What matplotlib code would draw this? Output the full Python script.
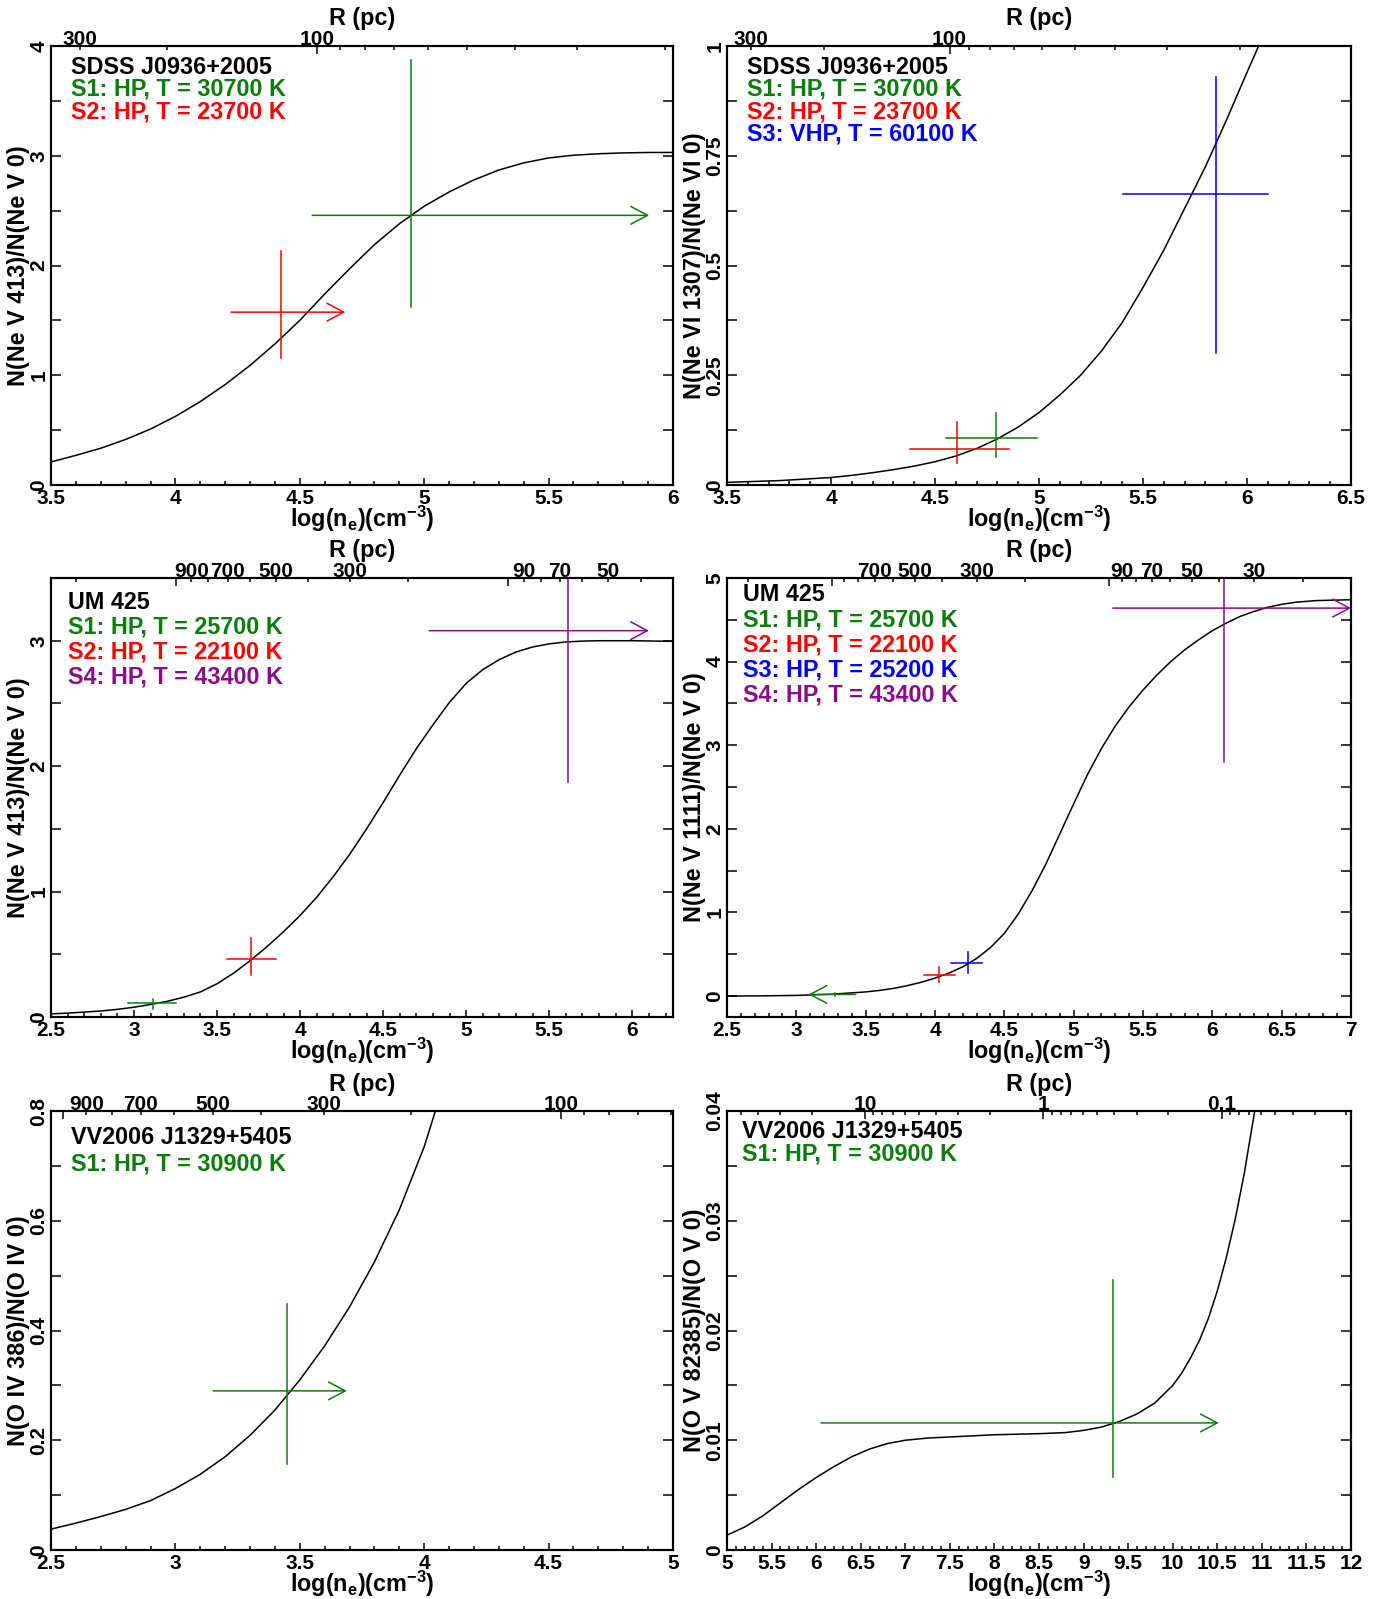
import numpy as np
import matplotlib.pyplot as plt
from matplotlib.ticker import MultipleLocator

plt.rcParams['font.family'] = ['Liberation Sans', 'DejaVu Sans']
plt.rcParams['font.weight'] = 'bold'
plt.rcParams['axes.labelweight'] = 'bold'
plt.rcParams['mathtext.fontset'] = 'custom'
plt.rcParams['mathtext.rm'] = 'Liberation Sans:bold'
plt.rcParams['mathtext.bf'] = 'Liberation Sans:bold'
plt.rcParams['mathtext.default'] = 'bf'

GREEN = '#0a7d0a'
RED = '#ff0000'
BLUE = '#0000ff'
PURPLE = '#8b0a8b'

# --- model curves: log(ne) vs excited/ground column density ratio ---
j0936_nev_ne = [3.5, 3.6, 3.7, 3.8, 3.9, 4.0, 4.1, 4.2, 4.3, 4.4, 4.5, 4.6,
                4.7, 4.8, 4.9, 5.0, 5.1, 5.2, 5.3, 5.4, 5.5, 5.6, 5.7, 5.8,
                5.9, 6.0]
j0936_nev_ratio = [0.21, 0.27, 0.335, 0.415, 0.51, 0.625, 0.76, 0.915, 1.09,
                   1.285, 1.50, 1.74, 1.97, 2.19, 2.38, 2.54, 2.67, 2.78, 2.87,
                   2.935, 2.98, 3.005, 3.018, 3.026, 3.03, 3.03]

j0936_nevi_ne = [3.5, 3.75, 4.0, 4.1, 4.2, 4.3, 4.4, 4.5, 4.6, 4.7, 4.8, 4.9,
                 5.0, 5.1, 5.2, 5.3, 5.4, 5.5, 5.6, 5.7, 5.8, 5.9, 6.0, 6.056]
j0936_nevi_ratio = [0.006, 0.010, 0.017, 0.022, 0.028, 0.035, 0.043, 0.053,
                    0.066, 0.083, 0.105, 0.132, 0.165, 0.205, 0.25, 0.305,
                    0.37, 0.45, 0.535, 0.63, 0.725, 0.83, 0.94, 1.0]

um425_nev413_ne = [2.5, 2.6, 2.7, 2.8, 2.9, 3.0, 3.1, 3.2, 3.3, 3.4, 3.5, 3.6,
                   3.7, 3.8, 3.9, 4.0, 4.1, 4.2, 4.3, 4.4, 4.5, 4.6, 4.7, 4.8,
                   4.9, 5.0, 5.1, 5.2, 5.3, 5.4, 5.5, 5.6, 5.7, 5.8, 6.0, 6.245]
um425_nev413_ratio = [0.025, 0.031, 0.039, 0.048, 0.061, 0.078, 0.10, 0.125,
                      0.158, 0.20, 0.265, 0.35, 0.45, 0.56, 0.68, 0.81, 0.955,
                      1.12, 1.30, 1.50, 1.71, 1.93, 2.14, 2.33, 2.51, 2.66,
                      2.77, 2.85, 2.91, 2.95, 2.975, 2.99, 2.997, 3.0, 3.0,
                      2.995]

um425_nev1111_ne = [2.5, 2.75, 3.0, 3.25, 3.5, 3.6, 3.7, 3.8, 3.9, 4.0, 4.1,
                    4.2, 4.3, 4.4, 4.5, 4.6, 4.7, 4.8, 4.9, 5.0, 5.1, 5.2, 5.3,
                    5.4, 5.5, 5.6, 5.7, 5.8, 5.9, 6.0, 6.1, 6.2, 6.3, 6.4, 6.5,
                    6.6, 6.75, 7.0]
um425_nev1111_ratio = [0.0, 0.003, 0.008, 0.022, 0.05, 0.068, 0.092, 0.125,
                       0.165, 0.215, 0.275, 0.35, 0.45, 0.58, 0.75, 0.98, 1.26,
                       1.58, 1.94, 2.30, 2.65, 2.96, 3.23, 3.46, 3.66, 3.84,
                       4.0, 4.14, 4.26, 4.37, 4.46, 4.54, 4.60, 4.65, 4.685,
                       4.71, 4.73, 4.74]

vv2006_oiv_ne = [2.5, 2.6, 2.7, 2.8, 2.9, 3.0, 3.1, 3.2, 3.3, 3.4, 3.5, 3.6,
                 3.7, 3.8, 3.9, 4.0, 4.045]
vv2006_oiv_ratio = [0.038, 0.049, 0.061, 0.074, 0.09, 0.112, 0.138, 0.17,
                    0.209, 0.255, 0.31, 0.372, 0.443, 0.525, 0.62, 0.735, 0.8]

vv2006_ov_ne = [5.0, 5.2, 5.4, 5.6, 5.8, 6.0, 6.2, 6.4, 6.6, 6.8, 7.0, 7.25,
                7.5, 8.0, 8.5, 8.8, 9.0, 9.2, 9.4, 9.6, 9.8, 10.0, 10.1, 10.2,
                10.3, 10.4, 10.5, 10.6, 10.7, 10.8, 10.92]
vv2006_ov_ratio = [0.00135, 0.0021, 0.0031, 0.0043, 0.0055, 0.0066, 0.0076,
                   0.0085, 0.0092, 0.0097, 0.0100, 0.0102, 0.0103, 0.0105,
                   0.0106, 0.0107, 0.0109, 0.0112, 0.0117, 0.0124, 0.0134,
                   0.0150, 0.0161, 0.0175, 0.0191, 0.0211, 0.0236, 0.0266,
                   0.0301, 0.0342, 0.040]

# --- measurements: (log ne, ne lo, ne hi, ratio, ratio lo, ratio hi, colour, limit arrow) ---
j0936_nev_meas = [(4.947, 4.55, 5.904, 2.457, 1.622, 3.874, GREEN, 'right'),
                  (4.425, 4.224, 4.683, 1.575, 1.159, 2.135, RED, 'right')]
j0936_nevi_meas = [(4.794, 4.553, 4.988, 0.108, 0.063, 0.165, GREEN, None),
                   (4.606, 4.378, 4.856, 0.083, 0.050, 0.144, RED, None),
                   (5.850, 5.402, 6.099, 0.664, 0.301, 0.929, BLUE, None)]
um425_nev413_meas = [(5.612, 4.778, 6.10, 3.08, 1.873, 3.5, PURPLE, 'right'),
                     (3.707, 3.56, 3.854, 0.46, 0.338, 0.626, RED, None),
                     (3.113, 2.966, 3.254, 0.108, 0.066, 0.147, GREEN, None)]
um425_nev1111_meas = [(6.082, 5.282, 7.0, 4.64, 2.80, 5.0, PURPLE, 'right'),
                      (4.24, 4.118, 4.342, 0.39, 0.28, 0.53, BLUE, None),
                      (4.032, 3.92, 4.144, 0.256, 0.17, 0.35, RED, None),
                      (3.28, 3.088, 3.427, 0.02, 0.0, 0.04, GREEN, 'left')]
vv2006_oiv_meas = [(3.447, 3.152, 3.689, 0.29, 0.157, 0.449, GREEN, 'right')]
vv2006_ov_meas = [(9.328, 6.055, 10.517, 0.01158, 0.00664, 0.02464, GREEN, 'right')]

# distance scale R(pc) = 10**(k - 0.5 log ne) for each object
k_j0936 = 4.285
k_um425 = 4.627
k_vv2006 = 4.275

j0936_legend = [('SDSS J0936+2005', 'black'), ('S1: HP, T = 30700 K', GREEN),
                ('S2: HP, T = 23700 K', RED)]
j0936_legend_vi = j0936_legend + [('S3: VHP, T = 60100 K', BLUE)]
um425_legend_a = [('UM 425', 'black'), ('S1: HP, T = 25700 K', GREEN),
                  ('S2: HP, T = 22100 K', RED), ('S4: HP, T = 43400 K', PURPLE)]
um425_legend_b = [('UM 425', 'black'), ('S1: HP, T = 25700 K', GREEN),
                  ('S2: HP, T = 22100 K', RED), ('S3: HP, T = 25200 K', BLUE),
                  ('S4: HP, T = 43400 K', PURPLE)]
vv2006_legend = [('VV2006 J1329+5405', 'black'), ('S1: HP, T = 30900 K', GREEN)]

W, H = 1388, 1599
fig = plt.figure(figsize=(W / 100, H / 100), dpi=100)

LBL = 16.8
TCK = 15


def fmt(v):
    return '%g' % round(v, 6)


def panel(rect, ne, ratio, meas, xlim, ylim, ymaj, ymin, k, rlabels,
          legend, ylabel, txt_x, txt_y0, txt_dy):
    ax = fig.add_axes([rect[0] / W, 1 - rect[3] / H,
                       (rect[2] - rect[0]) / W, (rect[3] - rect[1]) / H])
    ax.plot(ne, ratio, color='black', lw=1.1)
    for x, xlo, xhi, y, ylo, yhi, c, arrow in meas:
        ax.plot([x, x], [ylo, yhi], color=c, lw=1.1)
        if arrow is None:
            ax.plot([xlo, xhi], [y, y], color=c, lw=1.1)
        else:
            tip, tail = (xhi, xlo) if arrow == 'right' else (xlo, xhi)
            ax.annotate('', xy=(tip, y), xytext=(tail, y), annotation_clip=False,
                        arrowprops=dict(arrowstyle='->,head_length=0.6,head_width=0.32',
                                        color=c, lw=1.1, shrinkA=0, shrinkB=0,
                                        mutation_scale=20))

    xt = np.arange(xlim[0], xlim[1] + 1e-6, 0.5)
    yt = np.arange(max(ylim[0], 0), ylim[1] + 1e-9, ymaj)
    ax.set_xticks(xt, [fmt(v) for v in xt], fontsize=TCK, fontweight='bold')
    ax.set_yticks(yt, [fmt(v) for v in yt], fontsize=TCK, fontweight='bold',
                  rotation=90, va='center')
    ax.xaxis.set_minor_locator(MultipleLocator(0.1))
    ax.yaxis.set_minor_locator(MultipleLocator(ymin))
    ax.set_xlim(xlim)
    ax.set_ylim(ylim)
    ax.tick_params(which='both', direction='in', top=False, right=True, width=1.1)
    ax.tick_params(axis='x', which='major', length=5, pad=3)
    ax.tick_params(axis='x', which='minor', length=3)
    ax.tick_params(axis='y', which='both', length=7, pad=2)
    for s in ax.spines.values():
        s.set_linewidth(1.5)

    ax.set_xlabel(r'log(n$_{e}$)(cm$^{-3}$)', fontsize=LBL, fontweight='bold',
                  va='center')
    ax.xaxis.set_label_coords(0.5, -34 / 439)
    ax.set_ylabel(ylabel, fontsize=LBL, fontweight='bold', va='center')
    ax.yaxis.set_label_coords(-32 / 622, 0.5)

    # distance scale along the top
    top = ax.twiny()
    top.set_xlim(xlim)
    rmax = 10 ** (k - 0.5 * xlim[0])
    rmin = 10 ** (k - 0.5 * xlim[1])
    major, minor = [], []
    for e in range(-3, 5):
        for m in range(1, 10):
            r = m * 10.0 ** e
            if rmin <= r <= rmax:
                (major if m == 1 else minor).append(r)
    to_ne = lambda rs: [2 * (k - np.log10(r)) for r in rs]
    lab = lambda rs: [fmt(r) if any(abs(r - q) < 1e-9 for q in rlabels) else ''
                      for r in rs]
    top.set_xticks(to_ne(major), labels=lab(major), fontsize=TCK, fontweight='bold')
    top.set_xticks(to_ne(minor), labels=lab(minor), minor=True, fontsize=TCK,
                   fontweight='bold')
    top.tick_params(which='both', direction='in', width=1.1, pad=-2)
    top.tick_params(which='major', length=6)
    top.tick_params(which='minor', length=3)
    for s in top.spines.values():
        s.set_linewidth(1.5)
    ax.text(0.5, 1 + 27 / 439, 'R (pc)', transform=ax.transAxes,
            ha='center', va='center', fontsize=LBL, fontweight='bold')

    for i, (t, c) in enumerate(legend):
        ax.annotate(t, xy=(0, 1), xycoords='axes fraction',
                    xytext=(txt_x, -(txt_y0 + i * txt_dy)),
                    textcoords='offset pixels', color=c, fontsize=LBL,
                    fontweight='bold', ha='left', va='center')
    return ax


panel((51, 46, 673, 485), j0936_nev_ne, j0936_nev_ratio, j0936_nev_meas,
      (3.5, 6.0), (0, 4), 1, 0.5, k_j0936, [300, 100], j0936_legend,
      'N(Ne V 413)/N(Ne V 0)', 20, 21, 22.4)
panel((727, 46, 1351, 485), j0936_nevi_ne, j0936_nevi_ratio, j0936_nevi_meas,
      (3.5, 6.5), (0, 1), 0.25, 0.125, k_j0936, [300, 100], j0936_legend_vi,
      'N(Ne VI 1307)/N(Ne VI 0)', 20, 21, 22.4)
panel((51, 578, 673, 1017), um425_nev413_ne, um425_nev413_ratio, um425_nev413_meas,
      (2.5, 6.245), (0, 3.5), 1, 0.5, k_um425, [900, 700, 500, 300, 90, 70, 50],
      um425_legend_a, 'N(Ne V 413)/N(Ne V 0)', 17, 24.5, 25)
panel((727, 578, 1351, 1017), um425_nev1111_ne, um425_nev1111_ratio,
      um425_nev1111_meas, (2.5, 7.0), (-0.25, 5), 1, 0.5, k_um425,
      [700, 500, 300, 90, 70, 50, 30], um425_legend_b,
      'N(Ne V 1111)/N(Ne V 0)', 16, 17, 25)
panel((51, 1111, 673, 1550), vv2006_oiv_ne, vv2006_oiv_ratio, vv2006_oiv_meas,
      (2.5, 5.0), (0, 0.8), 0.2, 0.1, k_vv2006, [900, 700, 500, 300, 100],
      vv2006_legend, 'N(O IV 386)/N(O IV 0)', 20, 27, 26.5)
panel((727, 1111, 1351, 1550), vv2006_ov_ne, vv2006_ov_ratio, vv2006_ov_meas,
      (5.0, 12.0), (0, 0.04), 0.01, 0.005, k_vv2006, [10, 1, 0.1],
      vv2006_legend, 'N(O V 82385)/N(O V 0)', 15, 21, 22.5)

fig.savefig('out.png', dpi=100)
